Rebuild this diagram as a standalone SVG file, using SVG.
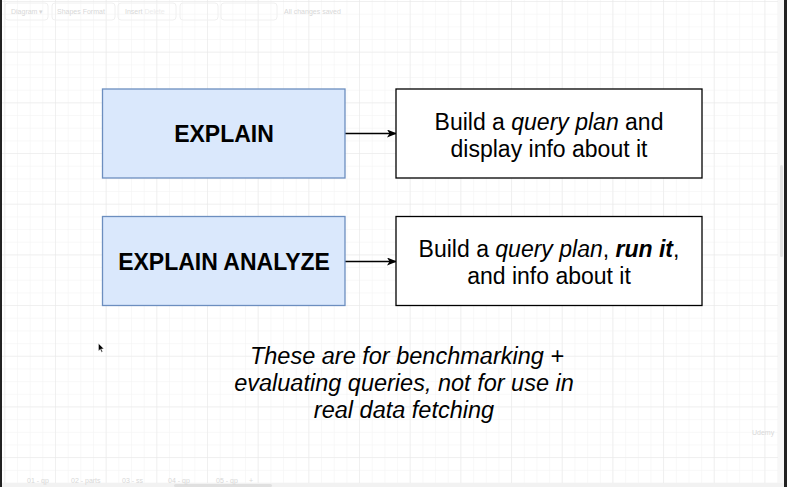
<svg xmlns="http://www.w3.org/2000/svg" width="787" height="487" viewBox="0 0 787 487">
<style>
.blue{fill:#dae8fc;stroke:#6c8ebf;stroke-width:1.3}
.white{fill:#ffffff;stroke:#000000;stroke-width:1.3}
.lbl{font-family:"Liberation Sans",Arial,sans-serif;font-size:23px;font-weight:bold;fill:#000;text-anchor:middle}
.txt{font-family:"Liberation Sans",Arial,sans-serif;font-size:23px;fill:#000;text-anchor:middle}
.note{font-family:"Liberation Sans",Arial,sans-serif;font-size:23.5px;font-style:italic;fill:#000;text-anchor:middle}
.ui{font-family:"Liberation Sans",Arial,sans-serif;font-size:7px;fill:#d8d8d8}
.conn{stroke:#000;stroke-width:1.3;fill:none;marker-end:url(#arr)}
</style>
<defs>
<pattern id="minor" x="5.3" y="2" width="12.67" height="12.67" patternUnits="userSpaceOnUse">
<path d="M12.67 0V12.67H0" fill="none" stroke="#f2f2f2" stroke-width="1"/>
</pattern>
<pattern id="major" x="5.3" y="2" width="50.67" height="50.67" patternUnits="userSpaceOnUse">
<path d="M50.67 0V50.67H0" fill="none" stroke="#e8e8e8" stroke-width="1"/>
</pattern>
<marker id="arr" markerWidth="10" markerHeight="8" refX="9" refY="4" orient="auto" markerUnits="userSpaceOnUse">
<path d="M0 0L10 4L0 8L2.5 4Z" fill="#000"/>
</marker>
</defs>
<rect width="787" height="487" fill="#ffffff"/>
<rect width="787" height="487" fill="url(#minor)"/>
<rect width="787" height="487" fill="url(#major)"/>
<!-- window frame -->
<rect x="0" y="0" width="2" height="487" fill="#222"/>
<rect x="784" y="0" width="3" height="487" fill="#222"/>
<rect x="778" y="0" width="6" height="483" fill="#f7f7f7"/>
<rect x="780" y="165" width="3" height="92" rx="1.5" fill="#e2e2e2"/>
<rect x="2" y="483" width="782" height="4" fill="#f2f2f2"/>
<rect x="174" y="484" width="98" height="3" rx="1.5" fill="#e0e0e0"/>
<!-- faint toolbar -->
<g id="toolbar">
<rect x="5" y="3" width="43" height="17" rx="3" fill="none" stroke="#f0f0f0"/>
<rect x="52" y="3" width="63" height="17" rx="3" fill="none" stroke="#f0f0f0"/>
<rect x="118" y="3" width="58" height="17" rx="3" fill="none" stroke="#f0f0f0"/>
<rect x="180" y="3" width="38" height="17" rx="3" fill="none" stroke="#f0f0f0"/>
<rect x="221" y="3" width="56" height="17" rx="3" fill="none" stroke="#f0f0f0"/>
<text class="ui" x="11" y="14">Diagram ▾</text>
<text class="ui" x="57" y="14">Shapes  Format</text>
<text class="ui" x="125" y="14">Insert  <tspan fill="#ececec">Delete</tspan></text>
<text class="ui" x="284" y="14">All changes saved</text>
</g>
<g id="tabs">
<text class="ui" x="27" y="483">01 - qp</text>
<text class="ui" x="71" y="483">02 - parts</text>
<text class="ui" x="122" y="483">03 - ss</text>
<text class="ui" x="168" y="483">04 - qp</text>
<text class="ui" x="216" y="483">05 - qp</text>
<text class="ui" x="249" y="483">+</text>
</g>
<text class="ui" x="752" y="435">Udemy</text>
<!-- connectors -->
<g id="connectors">
<path class="conn" d="M345 133.5H396"/>
<path class="conn" d="M345 261.5H396"/>
</g>
<g id="explain">
<rect class="blue" x="102.5" y="89" width="242.5" height="89"/>
<text class="lbl" x="224" y="142">EXPLAIN</text>
</g>
<g id="explain-desc">
<rect class="white" x="396" y="89" width="306" height="89"/>
<text class="txt" x="549" y="130">Build a <tspan font-style="italic">query plan</tspan> and</text>
<text class="txt" x="549" y="157">display info about it</text>
</g>
<g id="explain-analyze">
<rect class="blue" x="102.5" y="216.5" width="242.5" height="89"/>
<text class="lbl" x="224" y="270">EXPLAIN ANALYZE</text>
</g>
<g id="explain-analyze-desc">
<rect class="white" x="396" y="216.5" width="306" height="89"/>
<text class="txt" x="549" y="257">Build a <tspan font-style="italic">query plan</tspan>, <tspan font-style="italic" font-weight="bold">run it</tspan>,</text>
<text class="txt" x="549" y="284">and info about it</text>
</g>
<g id="note">
<text class="note" x="407" y="364">These are for benchmarking +</text>
<text class="note" x="404" y="391">evaluating queries, not for use in</text>
<text class="note" x="404" y="418">real data fetching</text>
</g>
<path d="M98.5 343.5V351L100.3 349.3L101.6 352.2L102.6 351.8L101.4 348.9L103.8 348.8Z" fill="#000" stroke="#fff" stroke-width="0.4"/>
</svg>
